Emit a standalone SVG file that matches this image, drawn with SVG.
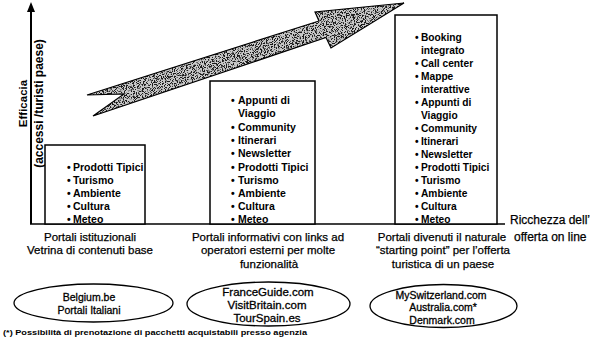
<svg xmlns="http://www.w3.org/2000/svg" width="597" height="344" viewBox="0 0 597 344">
<style>
.ax{stroke:#000;stroke-width:2;fill:none}
.base{stroke:#000;stroke-width:1.5;fill:none}
.box{fill:#fff;stroke:#000;stroke-width:1.5}
.item{font-family:"Liberation Sans",Arial,sans-serif;font-weight:bold;font-size:10.5px;fill:#000}
.item3{font-family:"Liberation Sans",Arial,sans-serif;font-weight:bold;font-size:10.2px;fill:#000}
.lbl{font-family:"Liberation Sans",Arial,sans-serif;font-size:11.5px;fill:#000;stroke:#000;stroke-width:0.25;text-anchor:middle}
.side{font-family:"Liberation Sans",Arial,sans-serif;font-size:12px;fill:#000;stroke:#000;stroke-width:0.25}
.ytl{font-family:"Liberation Sans",Arial,sans-serif;font-weight:bold;font-size:11.5px;fill:#000;text-anchor:middle}
.ell{fill:none;stroke:#000;stroke-width:1.3}
.et{font-family:"Liberation Sans",Arial,sans-serif;fill:#000;stroke:#000;stroke-width:0.3;text-anchor:middle}
.foot{font-family:"Liberation Sans",Arial,sans-serif;font-weight:bold;font-size:7.5px;fill:#000}
</style>
<defs>
<filter id="stip" x="0" y="0" width="1" height="1" color-interpolation-filters="sRGB">
<feTurbulence type="fractalNoise" baseFrequency="0.9" numOctaves="2" seed="4" result="n"/>
<feColorMatrix in="n" type="matrix" values="0 0 0 0 0.1  0 0 0 0 0.1  0 0 0 0 0.1  -9 0 0 0 4.6" result="d"/>
<feComposite in="d" in2="SourceAlpha" operator="in" result="dm"/>
<feMerge><feMergeNode in="SourceGraphic"/><feMergeNode in="dm"/></feMerge>
</filter>
</defs>

<g id="axes">
<line class="ax" x1="31" y1="224" x2="31" y2="10"/>
<path d="M27,12 L31,2 L35,12 Z" fill="#000"/>
<line class="base" x1="30" y1="224" x2="505" y2="224"/>
<text class="ytl" transform="translate(27,103.5) rotate(-90)">Efficacia</text>
<text class="ytl" transform="translate(43,103.5) rotate(-90)" style="font-size:12px">(accessi /turisti paese)</text>
<text class="side" x="510" y="224">Ricchezza dell’</text>
<text class="side" x="514" y="241">offerta on line</text>
</g>

<g id="trend-arrow">
<polygon points="87,95 319,21 315,12 404,3 331,48 326,37.5 93,116 124,94" fill="#c8c8c8" filter="url(#stip)"/>
<polygon points="87,95 319,21 315,12 404,3 331,48 326,37.5 93,116 124,94" fill="none" stroke="#000" stroke-width="1.2" stroke-linejoin="miter"/>
</g>

<g id="box1">
<rect class="box" x="45" y="145" width="100" height="79"/>
<text class="item" y="170.5"><tspan x="67">•</tspan><tspan x="73">Prodotti Tipici</tspan></text>
<text class="item" y="183.5"><tspan x="67">•</tspan><tspan x="73">Turismo</tspan></text>
<text class="item" y="196.5"><tspan x="67">•</tspan><tspan x="73">Ambiente</tspan></text>
<text class="item" y="209.5"><tspan x="67">•</tspan><tspan x="73">Cultura</tspan></text>
<text class="item" y="222.5"><tspan x="67">•</tspan><tspan x="73">Meteo</tspan></text>
</g>

<g id="box2">
<rect class="box" x="210" y="81" width="105" height="143"/>
<text class="item" y="104"><tspan x="231">•</tspan><tspan x="238">Appunti di</tspan></text>
<text class="item" y="117.3"><tspan x="238">Viaggio</tspan></text>
<text class="item" y="130.6"><tspan x="231">•</tspan><tspan x="238">Community</tspan></text>
<text class="item" y="143.9"><tspan x="231">•</tspan><tspan x="238">Itinerari</tspan></text>
<text class="item" y="157.2"><tspan x="231">•</tspan><tspan x="238">Newsletter</tspan></text>
<text class="item" y="170.5"><tspan x="231">•</tspan><tspan x="238">Prodotti Tipici</tspan></text>
<text class="item" y="183.8"><tspan x="231">•</tspan><tspan x="238">Turismo</tspan></text>
<text class="item" y="197.1"><tspan x="231">•</tspan><tspan x="238">Ambiente</tspan></text>
<text class="item" y="210.4"><tspan x="231">•</tspan><tspan x="238">Cultura</tspan></text>
<text class="item" y="223"><tspan x="231">•</tspan><tspan x="238">Meteo</tspan></text>
</g>

<g id="box3">
<rect class="box" x="395" y="15" width="102" height="209"/>
<text class="item3" y="40.5"><tspan x="415">•</tspan><tspan x="421">Booking</tspan></text>
<text class="item3" y="53.6"><tspan x="421">integrato</tspan></text>
<text class="item3" y="66.6"><tspan x="415">•</tspan><tspan x="421">Call center</tspan></text>
<text class="item3" y="79.7"><tspan x="415">•</tspan><tspan x="421">Mappe</tspan></text>
<text class="item3" y="92.8"><tspan x="421">interattive</tspan></text>
<text class="item3" y="105.9"><tspan x="415">•</tspan><tspan x="421">Appunti di</tspan></text>
<text class="item3" y="118.9"><tspan x="421">Viaggio</tspan></text>
<text class="item3" y="132"><tspan x="415">•</tspan><tspan x="421">Community</tspan></text>
<text class="item3" y="145.1"><tspan x="415">•</tspan><tspan x="421">Itinerari</tspan></text>
<text class="item3" y="158.1"><tspan x="415">•</tspan><tspan x="421">Newsletter</tspan></text>
<text class="item3" y="171.2"><tspan x="415">•</tspan><tspan x="421">Prodotti Tipici</tspan></text>
<text class="item3" y="184.3"><tspan x="415">•</tspan><tspan x="421">Turismo</tspan></text>
<text class="item3" y="197.3"><tspan x="415">•</tspan><tspan x="421">Ambiente</tspan></text>
<text class="item3" y="210.4"><tspan x="415">•</tspan><tspan x="421">Cultura</tspan></text>
<text class="item3" y="223"><tspan x="415">•</tspan><tspan x="421">Meteo</tspan></text>
</g>

<g id="label1">
<text class="lbl" x="90" y="241">Portali istituzionali</text>
<text class="lbl" x="90" y="254">Vetrina di contenuti base</text>
</g>
<g id="label2">
<text class="lbl" x="268" y="241">Portali informativi con links ad</text>
<text class="lbl" x="268" y="254">operatori esterni per molte</text>
<text class="lbl" x="269" y="267.5">funzionalità</text>
</g>
<g id="label3">
<text class="lbl" x="442" y="241">Portali divenuti il naturale</text>
<text class="lbl" x="443" y="254">“starting point” per l’offerta</text>
<text class="lbl" x="443" y="267.5">turistica di un paese</text>
</g>

<g id="ellipse1">
<ellipse class="ell" cx="93.5" cy="303" rx="79.5" ry="19"/>
<text class="et" x="89" y="301" font-size="10.5">Belgium.be</text>
<text class="et" x="89" y="313.5" font-size="10.5">Portali Italiani</text>
</g>
<g id="ellipse2">
<ellipse class="ell" cx="268.5" cy="304" rx="81.5" ry="22"/>
<text class="et" x="268" y="296" font-size="11.5">FranceGuide.com</text>
<text class="et" x="267" y="309" font-size="11.5">VisitBritain.com</text>
<text class="et" x="267" y="322" font-size="11.5">TourSpain.es</text>
</g>
<g id="ellipse3">
<ellipse class="ell" cx="443.5" cy="306" rx="73.5" ry="21.5"/>
<text class="et" x="441" y="298.5" font-size="10.5">MySwitzerland.com</text>
<text class="et" x="443" y="311" font-size="10.5">Australia.com*</text>
<text class="et" x="442" y="323.5" font-size="10.5">Denmark.com</text>
</g>

<text class="foot" x="3" y="335" textLength="304" lengthAdjust="spacingAndGlyphs">(*) Possibilità di prenotazione di pacchetti acquistabili presso agenzia</text>
</svg>
